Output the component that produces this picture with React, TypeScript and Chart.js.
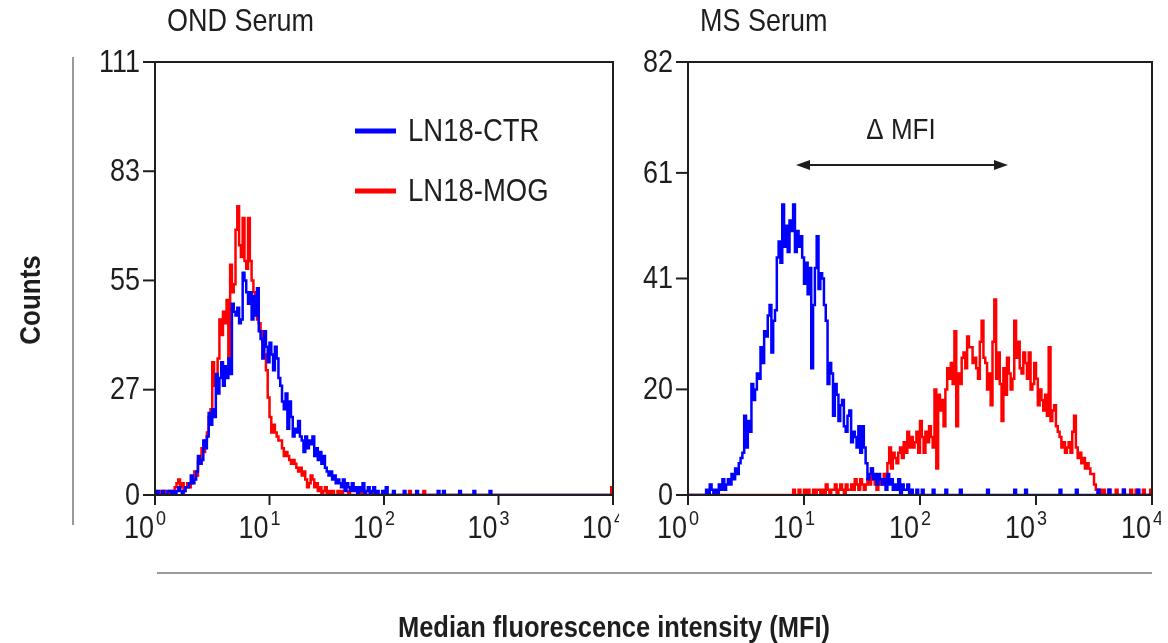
import React, { useEffect, useRef } from "react";
import { Chart, registerables } from "chart.js";

Chart.register(...registerables);

// ---------------- data (flow cytometry histograms, 64 channels per decade, 10^0..10^4) ----------------
const CHANNELS_PER_DECADE = 64;
const LAST_CHANNEL = 256;

const xTickExponents = [0, 1, 2, 3, 4];
const leftYTicks = [0, 27, 55, 83, 111];
const rightYTicks = [0, 20, 41, 61, 82];

const panelTitles = ["OND Serum", "MS Serum"];
const seriesNames = ["LN18-CTR", "LN18-MOG"];

// OND serum, LN18-CTR (blue): counts from channel 0
const ondCtrCounts = [
  0, 1, 0, 0, 1, 0, 0, 1, 1, 0,
  1, 0, 1, 2, 1, 0, 1, 2, 2, 3,
  5, 3, 4, 6, 10, 8, 9, 14, 12, 15,
  21, 18, 22, 20, 31, 26, 30, 34, 28, 33,
  30, 35, 31, 49, 47, 46, 48, 44, 45, 57,
  55, 52, 49, 52, 45, 51, 46, 53, 42, 40,
  35, 42, 38, 34, 39, 36, 32, 38, 35, 30,
  28, 24, 22, 26, 17, 24, 20, 15, 17, 16,
  19, 15, 14, 11, 15, 12, 14, 13, 15, 10,
  12, 9, 11, 8, 10, 7, 6, 5, 6, 4,
  5, 3, 4, 3, 2, 4, 1, 3, 2, 1,
  3, 1, 2, 0, 2, 1, 3, 0, 1, 2,
  0, 1, 2, 0, 1, 0, 0, 1, 0, 2,
];
const ondCtrTail: [number, number][] = [
  [133, 1], [139, 1], [146, 1], [158, 1], [161, 1], [170, 1], [178, 1], [187, 1],
];

// OND serum, LN18-MOG (red)
const ondMogCounts = [
  1, 0, 0, 1, 0, 1, 0, 0, 1, 1,
  0, 2, 3, 4, 2, 3, 1, 2, 3, 2,
  3, 4, 6, 5, 9, 8, 12, 11, 14, 16,
  20, 22, 34, 28, 30, 35, 45, 41, 47, 44,
  50, 35, 59, 52, 54, 68, 74, 64, 61, 71,
  60, 58, 71, 60, 55, 52, 48, 45, 44, 42,
  39, 36, 32, 25, 20, 16, 18, 16, 15, 14,
  14, 12, 10, 11, 10, 9, 8, 9, 8, 7,
  6, 7, 5, 6, 4, 2, 3, 5, 4, 2,
  3, 1, 2, 0, 1, 2, 0, 1, 0, 1,
  0, 0, 1, 0, 1, 0, 0, 0, 1, 0,
];
const ondMogTail: [number, number][] = [
  [115, 1], [122, 1], [128, 1], [142, 1], [150, 1], [255, 2],
];

// MS serum, LN18-CTR (blue)
const msCtrCounts = [
  0, 0, 0, 0, 0, 0, 0, 0, 0, 0,
  1, 0, 2, 1, 0, 1, 0, 2, 1, 3,
  1, 2, 3, 2, 4, 3, 5, 4, 6, 7,
  8, 15, 9, 14, 12, 21, 18, 20, 23, 22,
  28, 25, 31, 30, 34, 36, 27, 33, 35, 45,
  48, 44, 55, 47, 51, 46, 52, 50, 55, 46,
  50, 47, 49, 45, 40, 44, 38, 43, 24, 36,
  43, 49, 39, 42, 41, 36, 33, 21, 25, 23,
  15, 21, 19, 14, 17, 18, 13, 12, 15, 16,
  10, 12, 11, 9, 13, 8, 13, 9, 6, 3,
  4, 5, 3, 4, 2, 4, 3, 2, 3, 1,
  4, 2, 3, 1, 2, 1, 3, 0, 2, 1,
  1, 2, 0, 1, 0, 0, 1, 0, 0, 1,
];
const msCtrTail: [number, number][] = [
  [135, 1], [142, 1], [150, 1], [165, 1], [180, 1], [186, 1],
  [205, 1], [214, 1], [226, 1], [232, 1], [240, 1], [248, 1],
];

// MS serum, LN18-MOG (red): counts from channel 58
const msMogStart = 58;
const msMogCounts = [
  1, 0,
  0, 1, 0, 0, 1, 0, 1, 0, 0, 1,
  0, 1, 1, 0, 1, 0, 2, 1, 0, 1,
  1, 2, 0, 1, 2, 1, 0, 2, 1, 1,
  2, 1, 3, 2, 1, 3, 2, 1, 2, 3,
  2, 5, 3, 2, 1, 3, 2, 3, 4, 2,
  6, 9, 5, 8, 7, 6, 8, 9, 7, 10,
  8, 12, 9, 11, 9, 10, 12, 8, 14, 11,
  8, 12, 10, 13, 11, 9, 20, 5, 19, 16,
  18, 13, 20, 24, 22, 25, 21, 31, 13, 23,
  21, 26, 27, 24, 30, 28, 28, 25, 26, 24,
  22, 29, 33, 26, 25, 20, 23, 17, 29, 37,
  22, 27, 21, 14, 24, 19, 26, 23, 20, 22,
  33, 26, 29, 24, 23, 27, 25, 22, 27, 20,
  21, 25, 22, 17, 20, 18, 16, 19, 15, 28,
  14, 16, 17, 13, 12, 11, 9, 10, 8, 9,
  10, 8, 12, 15, 9, 7, 8, 6, 7, 5,
  6, 5, 4, 4, 2, 1, 0, 1, 0, 1,
];
const msMogTail: [number, number][] = [
  [232, 1], [236, 1], [240, 1], [244, 1], [247, 1], [251, 1], [255, 1],
];

// ---------------- helpers ----------------
const BLUE = "#0000ff";
const RED = "#ff0000";
const INK = "#1e1e1e";
const FONT = '"Liberation Sans", Arial, sans-serif';
const STRETCH = 1.17;

function buildSeries(start: number, counts: number[], tail: [number, number][]) {
  const extra = new Map(tail);
  const pts: { x: number; y: number }[] = [];
  for (let ch = 0; ch <= LAST_CHANNEL; ch++) {
    let y = 0;
    if (ch >= start && ch - start < counts.length) y = counts[ch - start];
    else if (extra.has(ch)) y = extra.get(ch) as number;
    pts.push({ x: Math.pow(10, ch / CHANNELS_PER_DECADE), y });
  }
  return pts;
}

function text(
  ctx: CanvasRenderingContext2D,
  s: string,
  x: number,
  y: number,
  size: number,
  align: CanvasTextAlign = "left",
  bold = false,
  color = INK,
  stretch = STRETCH
) {
  ctx.save();
  ctx.translate(x, y);
  ctx.scale(1, stretch);
  ctx.font = `${bold ? "bold " : ""}${size}px ${FONT}`;
  ctx.textAlign = align;
  ctx.textBaseline = "middle";
  ctx.fillStyle = color;
  ctx.fillText(s, 0, 0);
  ctx.restore();
}

function line(ctx: CanvasRenderingContext2D, x1: number, y1: number, x2: number, y2: number, w: number, color: string) {
  ctx.save();
  ctx.strokeStyle = color;
  ctx.lineWidth = w;
  ctx.beginPath();
  ctx.moveTo(x1, y1);
  ctx.lineTo(x2, y2);
  ctx.stroke();
  ctx.restore();
}

const SUPERS = ["0", "1", "2", "3", "4"];

type PanelCfg = {
  id: string;
  title: string;
  yTicks: number[];
  clipRight: number;
  extras: (ctx: CanvasRenderingContext2D) => void;
};

function makeDecor(p: PanelCfg) {
  return {
    id: "decor_" + p.id,
    afterDraw(chart: any) {
      const ctx: CanvasRenderingContext2D = chart.ctx;
      const a = chart.chartArea;
      const xs = chart.scales.x;
      const ys = chart.scales.y;
      ctx.save();
      ctx.beginPath();
      ctx.rect(0, 0, p.clipRight, chart.height);
      ctx.clip();
      // frame
      ctx.strokeStyle = INK;
      ctx.lineWidth = 2;
      ctx.strokeRect(a.left, a.top, a.right - a.left, a.bottom - a.top);
      // y ticks
      p.yTicks.forEach((v) => {
        const py = ys.getPixelForValue(v);
        line(ctx, a.left - 12, py, a.left, py, 2, INK);
        text(ctx, String(v), a.left - 15, py + 1, 27, "right");
      });
      // x ticks
      xTickExponents.forEach((e) => {
        const px = xs.getPixelForValue(Math.pow(10, e));
        line(ctx, px, a.bottom, px, a.bottom + 10, 2, INK);
        text(ctx, "10", px - 1, a.bottom + 34, 27, "right");
        text(ctx, SUPERS[e], px + 1, a.bottom + 24, 18, "left");
      });
      // title
      text(ctx, p.title, a.left + 12, 22, 27, "left");
      p.extras(ctx);
      ctx.restore();
    },
  };
}

function leftExtras(ctx: CanvasRenderingContext2D) {
  // legend
  line(ctx, 355, 131, 396, 131, 5, BLUE);
  text(ctx, seriesNames[0], 408, 132, 27.5, "left");
  line(ctx, 355, 191, 396, 191, 5, RED);
  text(ctx, seriesNames[1], 408, 192, 27.5, "left");
}

function rightExtras(ctx: CanvasRenderingContext2D) {
  text(ctx, "\u0394 MFI", 901, 131, 26, "center");
  const y = 165;
  line(ctx, 806, y, 999, y, 2, INK);
  ctx.save();
  ctx.fillStyle = INK;
  ctx.beginPath();
  ctx.moveTo(796, y);
  ctx.lineTo(810, y - 5);
  ctx.lineTo(810, y + 5);
  ctx.closePath();
  ctx.fill();
  ctx.beginPath();
  ctx.moveTo(1008, y);
  ctx.lineTo(994, y - 5);
  ctx.lineTo(994, y + 5);
  ctx.closePath();
  ctx.fill();
  ctx.restore();
}

const sharedDecor = {
  id: "shared_decor",
  afterDraw(chart: any) {
    const ctx: CanvasRenderingContext2D = chart.ctx;
    line(ctx, 73, 57, 73, 525, 2, "#999999");
    line(ctx, 157, 573, 1152, 573, 2, "#999999");
    text(ctx, "Median fluorescence intensity (MFI)", 614, 629, 25.5, "center", true);
    ctx.save();
    ctx.translate(32, 300);
    ctx.rotate(-Math.PI / 2);
    ctx.scale(1, 1.1);
    ctx.font = `bold 26px ${FONT}`;
    ctx.textAlign = "center";
    ctx.textBaseline = "middle";
    ctx.fillStyle = INK;
    ctx.fillText("Counts", 0, 0);
    ctx.restore();
  },
};

const W = 1168;
const H = 643;
const PLOT_TOP = 62;
const PLOT_BOTTOM = 495;

function makeChart(
  canvas: HTMLCanvasElement,
  left: number,
  right: number,
  yMax: number,
  blue: { x: number; y: number }[],
  red: { x: number; y: number }[],
  plugins: any[]
) {
  return new Chart(canvas, {
    type: "line",
    data: {
      datasets: [
        { label: seriesNames[0], data: blue, borderColor: BLUE, borderWidth: 2.5, stepped: true, pointRadius: 0, fill: false },
        { label: seriesNames[1], data: red, borderColor: RED, borderWidth: 2.5, stepped: true, pointRadius: 0, fill: false },
      ],
    },
    options: {
      animation: false,
      responsive: false,
      maintainAspectRatio: false,
      devicePixelRatio: 1,
      layout: { padding: { left, right: W - right, top: PLOT_TOP, bottom: H - PLOT_BOTTOM } },
      plugins: { legend: { display: false }, tooltip: { enabled: false } },
      scales: {
        x: { type: "logarithmic", min: 1, max: 10000, display: false },
        y: { type: "linear", min: 0, max: yMax, display: false },
      },
    },
    plugins,
  } as any);
}

export default function App() {
  const leftRef = useRef<HTMLCanvasElement>(null);
  const rightRef = useRef<HTMLCanvasElement>(null);

  useEffect(() => {
    const c1 = makeChart(
      leftRef.current as HTMLCanvasElement,
      155,
      613,
      111,
      buildSeries(0, ondCtrCounts, ondCtrTail),
      buildSeries(0, ondMogCounts, ondMogTail),
      [
        sharedDecor,
        makeDecor({ id: "l", title: panelTitles[0], yTicks: leftYTicks, clipRight: 619, extras: leftExtras }),
      ]
    );
    const c2 = makeChart(
      rightRef.current as HTMLCanvasElement,
      688,
      1152,
      82,
      buildSeries(0, msCtrCounts, msCtrTail),
      buildSeries(msMogStart, msMogCounts, msMogTail),
      [makeDecor({ id: "r", title: panelTitles[1], yTicks: rightYTicks, clipRight: 1161, extras: rightExtras })]
    );
    return () => {
      c1.destroy();
      c2.destroy();
    };
  }, []);

  const style: React.CSSProperties = { position: "absolute", left: 0, top: 0, width: W, height: H };
  return (
    <div style={{ position: "absolute", left: 0, top: 0, width: W, height: H, background: "#fff" }}>
      <canvas ref={leftRef} width={W} height={H} style={style} />
      <canvas ref={rightRef} width={W} height={H} style={style} />
    </div>
  );
}
